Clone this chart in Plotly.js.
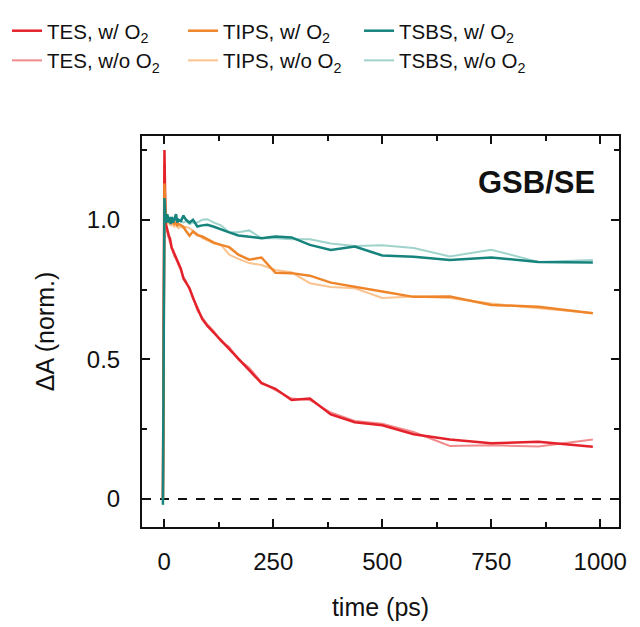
<!DOCTYPE html>
<html>
<head>
<meta charset="utf-8">
<script src="https://cdn.plot.ly/plotly-3.0.1.min.js"></script>
<style>html,body{margin:0;padding:0;background:#fff;}#chart{width:640px;height:627px;}</style>
</head>
<body>
<div id="chart"></div>
<script>
// time axis (ps)
const time = [-3, 0.5, 3, 5, 7, 9, 11, 13, 15, 17, 20, 23, 27, 30, 33, 38, 44, 50, 58, 66, 76, 87, 99, 114, 130, 149, 170, 195, 223, 255, 292, 334, 382, 437, 500, 572, 655, 750, 858, 983];

const tesWith = [0, 1.25, 0.99, 0.975, 0.96, 0.945, 0.94, 0.935, 0.915, 0.90, 0.89, 0.88, 0.865, 0.855, 0.845, 0.825, 0.79, 0.775, 0.755, 0.72, 0.685, 0.645, 0.62, 0.595, 0.572, 0.538, 0.505, 0.463, 0.415, 0.395, 0.355, 0.36, 0.303, 0.275, 0.264, 0.232, 0.213, 0.20, 0.205, 0.187];
const tesWithout = [0, 1.20, 0.98, 0.965, 0.955, 0.94, 0.93, 0.92, 0.91, 0.895, 0.885, 0.87, 0.86, 0.85, 0.84, 0.82, 0.795, 0.78, 0.75, 0.725, 0.675, 0.65, 0.625, 0.60, 0.565, 0.545, 0.50, 0.47, 0.418, 0.39, 0.36, 0.355, 0.31, 0.28, 0.27, 0.24, 0.19, 0.193, 0.188, 0.213];

const tipsWith = [0, 1.13, 1.03, 1.01, 1.0, 1.0, 0.995, 1.0, 0.99, 0.995, 0.99, 0.985, 0.99, 0.98, 0.985, 0.98, 0.975, 0.96, 0.943, 0.958, 0.945, 0.94, 0.93, 0.918, 0.91, 0.902, 0.875, 0.857, 0.865, 0.81, 0.809, 0.80, 0.775, 0.759, 0.743, 0.724, 0.725, 0.695, 0.689, 0.665];
const tipsWithout = [0, 1.10, 1.0, 0.99, 0.995, 0.985, 0.99, 0.98, 0.985, 0.98, 0.985, 0.975, 0.98, 0.975, 0.97, 0.975, 0.97, 0.975, 0.97, 0.96, 0.95, 0.935, 0.925, 0.915, 0.91, 0.875, 0.86, 0.845, 0.838, 0.82, 0.812, 0.773, 0.759, 0.755, 0.72, 0.725, 0.72, 0.70, 0.683, 0.666];

const tsbsWith = [-0.02, 1.078, 1.0, 0.99, 1.02, 1.0, 0.99, 1.01, 0.985, 1.01, 0.99, 1.0, 1.02, 0.99, 1.0, 0.995, 1.015, 1.0, 0.99, 1.0, 0.976, 0.98, 0.982, 0.975, 0.965, 0.955, 0.944, 0.938, 0.934, 0.94, 0.937, 0.91, 0.892, 0.904, 0.872, 0.868, 0.856, 0.865, 0.849, 0.847];
const tsbsWithout = [-0.02, 1.06, 1.0, 1.01, 0.995, 1.01, 1.0, 0.995, 1.005, 0.995, 1.01, 0.995, 1.005, 1.0, 0.995, 1.0, 0.99, 0.995, 0.985, 0.99, 0.99, 1.0, 1.002, 0.99, 0.98, 0.955, 0.955, 0.962, 0.934, 0.934, 0.93, 0.93, 0.915, 0.906, 0.909, 0.899, 0.869, 0.893, 0.849, 0.856];

const xTicks = [0, 250, 500, 750, 1000];
const xMinorTicks = [125, 375, 625, 875];
const yTicks = [0, 0.5, 1.0];
const yTickText = ['0', '0.5', '1.0'];
const yMinorTicks = [0.25, 0.75, 1.25];

const FONT = 'Liberation Sans, Arial, Helvetica, sans-serif';

function tr(name, y, color, width, rank) {
  return {x: time, y: y, type: 'scatter', mode: 'lines', name: name,
          line: {color: color, width: width}, legendrank: rank};
}

const data = [
  tr('TES, w/o O<sub>2</sub>', tesWithout, '#f28b8d', 2, 4),
  tr('TIPS, w/o O<sub>2</sub>', tipsWithout, '#fbc38f', 2, 5),
  tr('TSBS, w/o O<sub>2</sub>', tsbsWithout, '#9fd3cc', 2, 6),
  tr('TES, w/ O<sub>2</sub>', tesWith, '#e4222b', 2.5, 1),
  tr('TIPS, w/ O<sub>2</sub>', tipsWith, '#ef852a', 2.5, 2),
  tr('TSBS, w/ O<sub>2</sub>', tsbsWith, '#16837d', 2.5, 3)
];

const layout = {
  width: 640, height: 627,
  margin: {l: 142, r: 21, t: 136, b: 100, autoexpand: false},
  paper_bgcolor: '#fff', plot_bgcolor: '#fff',
  font: {family: FONT, color: '#111', size: 24},
  showlegend: true,
  legend: {orientation: 'h', x: -0.283, xanchor: 'left', y: 1.320, yanchor: 'top',
           entrywidth: 131, font: {size: 20.5, family: FONT, color: '#111'},
           bgcolor: 'rgba(0,0,0,0)', itemwidth: 30, traceorder: 'normal'},
  xaxis: {range: [-51, 1043], tickvals: xTicks, ticks: 'inside', ticklen: 8, tickwidth: 2,
          tickcolor: '#111', showline: true, linewidth: 2, linecolor: '#111', mirror: 'allticks',
          showgrid: false, zeroline: false, ticklabelstandoff: 12, automargin: false,
          tickfont: {size: 24, family: FONT, color: '#111'},
          minor: {tickvals: xMinorTicks, ticks: 'inside', ticklen: 5, tickwidth: 2, tickcolor: '#111', showgrid: false},
          title: {text: 'time (ps)', font: {size: 25, family: FONT, color: '#111'}, standoff: 25}},
  yaxis: {range: [-0.1, 1.3], tickvals: yTicks, ticktext: yTickText, ticks: 'inside', ticklen: 8, tickwidth: 2,
          tickcolor: '#111', showline: true, linewidth: 2, linecolor: '#111', mirror: 'allticks',
          showgrid: false, zeroline: false, ticklabelstandoff: 15, automargin: false,
          tickfont: {size: 24, family: FONT, color: '#111'},
          minor: {tickvals: yMinorTicks, ticks: 'inside', ticklen: 5, tickwidth: 2, tickcolor: '#111', showgrid: false},
          title: {text: 'ΔA (norm.)', font: {size: 25, family: FONT, color: '#111'}, standoff: 25}},
  shapes: [{type: 'line', xref: 'paper', x0: 0, x1: 1, yref: 'y', y0: 0, y1: 0, layer: 'below',
            line: {color: '#111', width: 2, dash: 'dash'}}],
  annotations: [{text: '<b>GSB/SE</b>', xref: 'paper', yref: 'paper', x: 0.954, y: 0.882,
                 xanchor: 'right', yanchor: 'middle', showarrow: false,
                 font: {size: 31, family: FONT, color: '#111'}}]
};

Plotly.newPlot('chart', data, layout, {displayModeBar: false, staticPlot: true});
</script>
</body>
</html>
